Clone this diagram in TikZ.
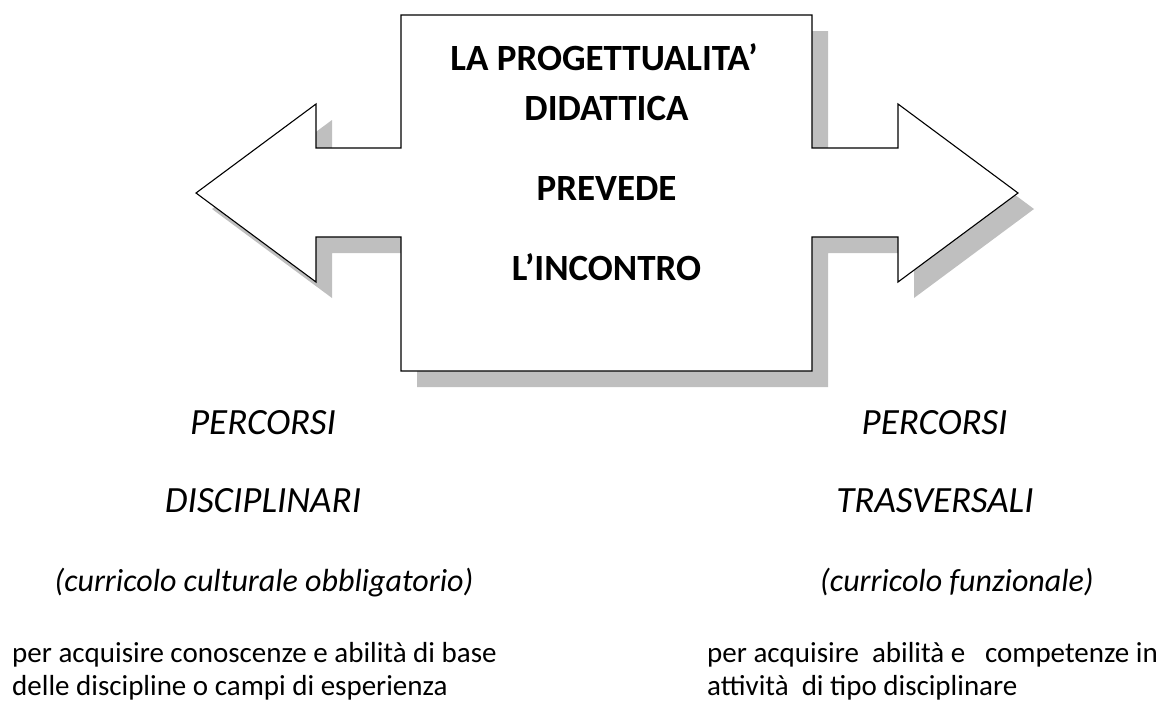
\documentclass[tikz,border=0pt]{standalone}
\usepackage{fontspec}
\setmainfont{Carlito}
\definecolor{shadowgray}{HTML}{BFBFBF}
\begin{document}
\begin{tikzpicture}[x=1pt,y=-1pt,
  head/.style={font=\fontsize{37}{44}\selectfont\bfseries, inner sep=0pt, anchor=base},
  ital/.style={font=\fontsize{37}{44}\selectfont\itshape, inner sep=0pt, anchor=base},
  paren/.style={font=\fontsize{32}{38}\selectfont\itshape, inner sep=0pt, anchor=base},
  body/.style={font=\fontsize{29}{35}\selectfont, inner sep=0pt, anchor=base west}]
\useasboundingbox (0,0) rectangle (1169,707);
\def\arrowshape{(196,193) -- (316,104) -- (316,148) -- (401,148) -- (401,15) -- (812,15) -- (812,148) -- (898,148) -- (898,104) -- (1018,193) -- (898,282) -- (898,237) -- (812,237) -- (812,371) -- (401,371) -- (401,237) -- (316,237) -- (316,282) -- cycle}
\fill[shadowgray, shift={(16,16)}] \arrowshape;
\filldraw[fill=white, draw=black, line width=1.1pt, line join=miter] \arrowshape;

\node[head] (t1) at (604,70) {LA PROGETTUALITA’};
\node[head] (t2) at (606.5,120.5) {DIDATTICA};
\node[head] (t3) at (606.5,200.5) {PREVEDE};
\node[head] (t4) at (606.5,280) {L’INCONTRO};

\node[ital] (l1) at (263,434) {PERCORSI};
\node[ital] (l2) at (263,512) {DISCIPLINARI};
\node[paren] (l3) at (264,591) {(curricolo culturale obbligatorio)};
\node[body] (l4) at (12,662) {per acquisire conoscenze e abilità di base};
\node[body] (l5) at (12,695) {delle discipline o campi di esperienza};

\node[ital] (r1) at (934.5,434) {PERCORSI};
\node[ital] (r2) at (935,512) {TRASVERSALI};
\node[paren] (r3) at (957,591) {(curricolo funzionale)};
\node[body] (r4) at (707,662) {per acquisire\ \ abilità e\ \ \ competenze in};
\node[body] (r5) at (707,695) {attività\ \ di tipo disciplinare};
\end{tikzpicture}
\end{document}
